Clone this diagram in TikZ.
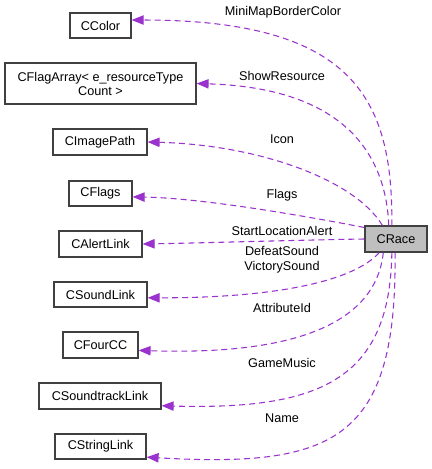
\documentclass[tikz,border=0pt]{standalone}
\usepackage{fontspec}
\setmainfont{Liberation Sans}
\usetikzlibrary{arrows.meta}
\definecolor{edgec}{HTML}{9A32CD}
\definecolor{boxc}{HTML}{404040}
\definecolor{racec}{HTML}{BFBFBF}
\begin{document}
\begin{tikzpicture}[x=0.75pt,y=-0.75pt,
  cls/.style={draw=boxc, line width=0.9pt, fill=white, inner sep=0pt, align=center,
    font=\fontsize{9.5}{10.5}\selectfont},
  lbl/.style={inner sep=0pt, align=center, font=\fontsize{9.5}{11.25}\selectfont},
  dep/.style={draw=edgec, line width=0.8pt, dash pattern=on 4.5pt off 3pt,
    -{Triangle[length=9pt,width=7pt]}}]
\useasboundingbox (0,0) rectangle (432,469);

\node[cls, minimum width=45.75pt, minimum height=18.75pt] (color) at (100.5,25.5) {CColor};
\node[cls, minimum width=143.25pt, minimum height=30.75pt] (flagarray) at (100.5,83.5) {CFlagArray< e\_resourceType\\Count >};
\node[cls, minimum width=70.5pt, minimum height=19.5pt] (imagepath) at (100,142) {CImagePath};
\node[cls, minimum width=47.25pt, minimum height=18.75pt] (flags) at (100.5,193.5) {CFlags};
\node[cls, minimum width=62.25pt, minimum height=19.5pt] (alert) at (100.5,244) {CAlertLink};
\node[cls, minimum width=69.75pt, minimum height=18.75pt] (soundlink) at (100.5,294.5) {CSoundLink};
\node[cls, minimum width=56.25pt, minimum height=19.5pt] (fourcc) at (100.5,345) {CFourCC};
\node[cls, minimum width=91.5pt, minimum height=19.5pt] (soundtrack) at (100,396) {CSoundtrackLink};
\node[cls, minimum width=68.25pt, minimum height=18.75pt] (stringlink) at (100.5,446.5) {CStringLink};
\node[cls, fill=racec, minimum width=46.5pt, minimum height=19.5pt] (race) at (396,239) {CRace};

\draw[dep] (race.107) .. controls (393,100) and (355,20) .. (color.10);
\draw[dep] (race.118) .. controls (386,155) and (345,88) .. (flagarray.east);
\draw[dep] (race.135) .. controls (355,180) and (260,145) .. (imagepath.east);
\draw[dep] (race.160) .. controls (300,215) and (200,198) .. (flags.-6);
\draw[dep] (race.west) .. controls (300,240) and (200,243) .. (alert.east);
\draw[dep] (race.219) .. controls (355,280) and (280,298) .. (soundlink.-4);
\draw[dep] (race.227) .. controls (375,330) and (280,355) .. (fourcc.-8);
\draw[dep] (race.253) .. controls (390,380) and (320,410) .. (soundtrack.-9);
\draw[dep] (race.266) .. controls (397,440) and (335,468) .. (stringlink.-13);

\node[lbl] (l1) at (283,12) {MiniMapBorderColor};
\node[lbl] (l2) at (282,76) {ShowResource};
\node[lbl] (l3) at (282,139) {Icon};
\node[lbl] (l4) at (282,195) {Flags};
\node[lbl] (l5) at (282,231) {StartLocationAlert};
\node[lbl] (l6) at (282,259.5) {DefeatSound\\VictorySound};
\node[lbl] (l7) at (282,308) {AttributeId};
\node[lbl] (l8) at (282,363) {GameMusic};
\node[lbl] (l9) at (282,418) {Name};
\end{tikzpicture}
\end{document}
